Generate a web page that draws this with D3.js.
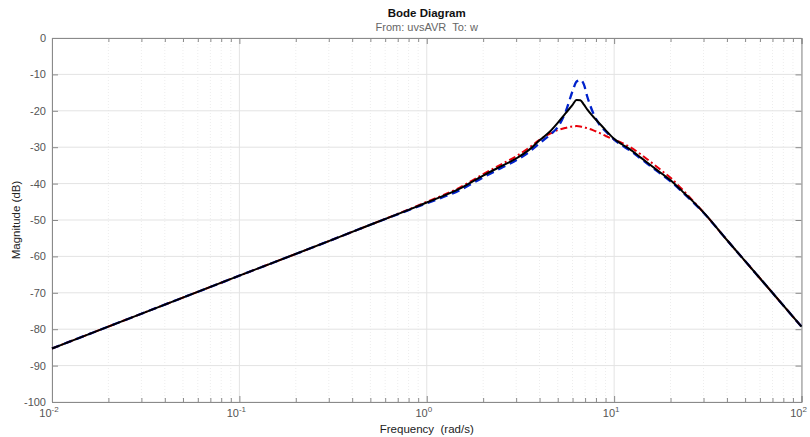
<!DOCTYPE html>
<html>
<head>
<meta charset="utf-8">
<script src="https://cdn.jsdelivr.net/npm/d3@7"></script>
<style>
  html, body { margin: 0; padding: 0; background: #fff; }
  svg { display: block; font-family: "Liberation Sans", Arial, Helvetica, sans-serif; }
  svg text { white-space: pre; }
</style>
</head>
<body>
<svg id="chart" width="810" height="437"></svg>
<script>
// Frequency grid (rad/s) shared by the three magnitude responses
const freq = [0.01, 0.1, 0.3, 0.5, 0.8, 1, 1.5, 2, 2.5, 3, 3.5, 4, 4.5, 5, 5.5, 6, 6.3, 6.6, 6.9, 7.2, 7.7, 8.3, 9, 10, 11, 12, 14, 16, 18, 20, 23, 26, 30, 40, 60, 100];

// Magnitude (dB)
const magSolid = [-85.3, -65.3, -55.8, -51.3, -47.2, -45.2, -41.4, -37.8, -35.2, -33.1, -30.8, -28.1, -25.9, -23.3, -20.7, -18.4, -17.0, -17.1, -18.3, -19.7, -21.5, -23.3, -25.3, -27.7, -29.2, -30.4, -33.0, -35.3, -37.3, -39.1, -42.0, -44.6, -47.9, -55.5, -66.0, -79.3];
const magDashed = [-85.3, -65.3, -55.8, -51.3, -47.3, -45.4, -41.8, -38.3, -35.7, -33.6, -31.4, -28.9, -26.8, -24.5, -20.4, -14.6, -12.0, -11.5, -12.8, -16.2, -20.4, -23.6, -25.6, -27.9, -29.5, -30.7, -33.3, -35.6, -37.6, -39.4, -42.2, -44.8, -48.0, -55.5, -66.0, -79.3];
const magDashDot = [-85.3, -65.3, -55.8, -51.3, -47.1, -45.0, -41.1, -37.4, -34.7, -32.5, -30.2, -28.0, -26.4, -25.3, -24.7, -24.3, -24.2, -24.3, -24.5, -24.8, -25.3, -26.0, -26.9, -27.9, -28.8, -29.8, -32.1, -34.4, -36.5, -38.4, -41.5, -44.4, -47.9, -55.5, -66.0, -79.3];

const yTicks = [0, -10, -20, -30, -40, -50, -60, -70, -80, -90, -100];
const xDecades = [-2, -1, 0, 1, 2];

const title = "Bode Diagram";
const subtitle = "From: uvsAVR  To: w";
const xLabel = "Frequency  (rad/s)";
const yLabel = "Magnitude (dB)";

const svg = d3.select("#chart");
const m = { left: 52, right: 8.5, top: 38, bottom: 35 };
const W = 810, H = 437;
const x0 = m.left, x1 = W - m.right, y0 = m.top, y1 = H - m.bottom;

const x = d3.scaleLog().domain([0.01, 100]).range([x0, x1]);
const y = d3.scaleLinear().domain([-100, 0]).range([y1, y0]);

// minor frequency positions 2..9 within each decade
const minor = [];
for (let d = -2; d < 2; d++) for (let k = 2; k <= 9; k++) minor.push(k * Math.pow(10, d));
const major = xDecades.map(e => Math.pow(10, e));

const grid = svg.append("g");
grid.selectAll("line.minor").data(minor).join("line")
  .attr("x1", d => x(d)).attr("x2", d => x(d)).attr("y1", y0).attr("y2", y1)
  .attr("stroke", "#ededed").attr("stroke-width", 1).attr("stroke-dasharray", "1,2");
grid.selectAll("line.vmaj").data(major).join("line")
  .attr("x1", d => x(d)).attr("x2", d => x(d)).attr("y1", y0).attr("y2", y1)
  .attr("stroke", "#e3e3e3").attr("stroke-width", 1);
grid.selectAll("line.hmaj").data(yTicks).join("line")
  .attr("x1", x0).attr("x2", x1).attr("y1", d => y(d)).attr("y2", d => y(d))
  .attr("stroke", "#e3e3e3").attr("stroke-width", 1);

// Axes (ticks pointing into the plot)
const axisColor = "#8a8a8a";
const gB = svg.append("g").attr("transform", `translate(0,${y1})`)
  .call(d3.axisBottom(x).tickValues(minor.concat(major)).tickSize(-6).tickFormat(""));
const gT = svg.append("g").attr("transform", `translate(0,${y0})`)
  .call(d3.axisTop(x).tickValues(minor.concat(major)).tickSize(-6).tickFormat(""));
const gL = svg.append("g").attr("transform", `translate(${x0},0)`)
  .call(d3.axisLeft(y).tickValues(yTicks).tickSize(-6).tickFormat(""));
const gR = svg.append("g").attr("transform", `translate(${x1},0)`)
  .call(d3.axisRight(y).tickValues(yTicks).tickSize(-6).tickFormat(""));
[gB, gT, gL, gR].forEach(g => {
  g.select(".domain").attr("stroke", axisColor).attr("stroke-width", 1);
  g.selectAll(".tick line").attr("stroke", axisColor).attr("stroke-width", 1);
});
gB.selectAll(".tick line").filter(d => minor.includes(d)).attr("y2", -4);
gT.selectAll(".tick line").filter(d => minor.includes(d)).attr("y2", 4);

// Y tick labels
svg.append("g").selectAll("text").data(yTicks).join("text")
  .attr("x", x0 - 6).attr("y", d => y(d) + 4)
  .attr("text-anchor", "end").attr("font-size", 11).attr("fill", "#555")
  .text(d => d);

// X tick labels as powers of ten
const xl = svg.append("g").selectAll("text").data(xDecades).join("text")
  .attr("x", d => x(Math.pow(10, d)) - 3).attr("y", y1 + 15)
  .attr("text-anchor", "middle").attr("font-size", 11).attr("fill", "#555");
xl.append("tspan").text("10");
xl.append("tspan").attr("dy", -5).attr("font-size", 8).text(d => d);

// Titles
svg.append("text").attr("x", (x0 + x1) / 2).attr("y", 17)
  .attr("text-anchor", "middle").attr("font-size", 11.5).attr("font-weight", "bold").attr("fill", "#111")
  .text(title);
svg.append("text").attr("x", (x0 + x1) / 2).attr("y", 31)
  .attr("text-anchor", "middle").attr("font-size", 11).attr("fill", "#666")
  .text(subtitle);
svg.append("text").attr("x", (x0 + x1) / 2).attr("y", 433)
  .attr("text-anchor", "middle").attr("font-size", 11.5).attr("fill", "#222")
  .text(xLabel);
svg.append("text").attr("transform", `translate(20,${(y0 + y1) / 2}) rotate(-90)`)
  .attr("text-anchor", "middle").attr("font-size", 11.5).attr("fill", "#222")
  .text(yLabel);

// Response curves
const line = d3.line().x(d => x(d[0])).y(d => y(d[1])).curve(d3.curveMonotoneX);
const plot = svg.append("g");
const series = [
  { vals: magDashDot, color: "#e8000b", width: 2, dash: "7,3,2,3" },
  { vals: magDashed, color: "#0022cc", width: 2.3, dash: "8,5" },
  { vals: magSolid, color: "#000000", width: 2, dash: null }
];
series.forEach(s => {
  plot.append("path")
    .datum(freq.map((f, i) => [f, s.vals[i]]))
    .attr("d", line)
    .attr("fill", "none")
    .attr("stroke", s.color)
    .attr("stroke-width", s.width)
    .attr("stroke-dasharray", s.dash)
    .attr("stroke-linejoin", "round");
});
</script>
</body>
</html>
